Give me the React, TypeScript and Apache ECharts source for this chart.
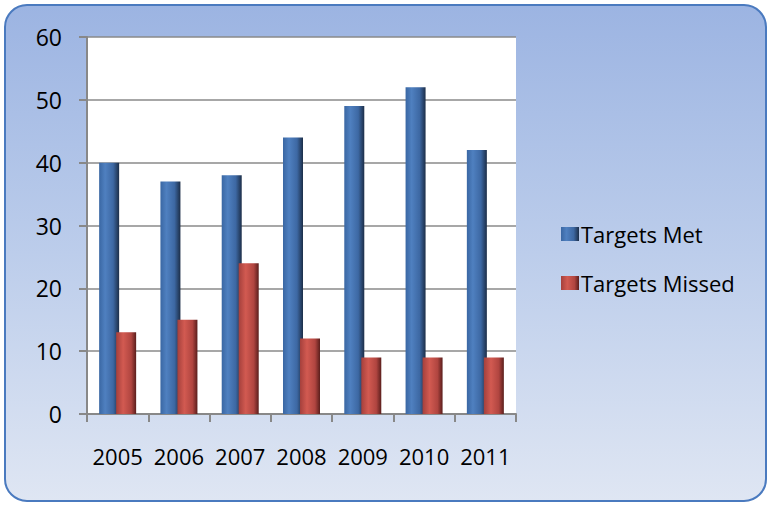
import React, { useEffect, useRef } from "react";
import * as echarts from "echarts";

const categories = ["2005", "2006", "2007", "2008", "2009", "2010", "2011"];
const targetsMet = [40, 37, 38, 44, 49, 52, 42];
const targetsMissed = [13, 15, 24, 12, 9, 9, 9];
const seriesNames = ["Targets Met", "Targets Missed"];
const yTicks = { min: 0, max: 60, interval: 10 };

const FONT = "'Open Sans', sans-serif";

export default function App() {
  const ref = useRef<HTMLDivElement>(null);
  useEffect(() => {
    if (!ref.current) return;
    const chart = echarts.init(ref.current, undefined, { renderer: "svg" });
    const blue = new echarts.graphic.LinearGradient(0, 0, 1, 0, [
      { offset: 0, color: "#3a67a3" },
      { offset: 0.3, color: "#4f80c0" },
      { offset: 0.7, color: "#3d68a3" },
      { offset: 1, color: "#1c2e48" },
    ]);
    const red = new echarts.graphic.LinearGradient(0, 0, 1, 0, [
      { offset: 0, color: "#a5403c" },
      { offset: 0.35, color: "#d25a51" },
      { offset: 0.75, color: "#b04540" },
      { offset: 1, color: "#5a1e1c" },
    ]);
    chart.setOption({
      animation: false,
      textStyle: { fontFamily: FONT },
      graphic: [
        {
          type: "rect",
          z: -10,
          silent: true,
          shape: { x: 5, y: 5, width: 761, height: 496, r: 22 },
          style: {
            fill: new echarts.graphic.LinearGradient(0, 0, 0, 1, [
              { offset: 0, color: "#9cb4e2" },
              { offset: 0.5, color: "#bccdeb" },
              { offset: 1, color: "#dfe6f3" },
            ]),
            stroke: "#4a7abf",
            lineWidth: 2,
          },
        },
      ],
      grid: {
        left: 87,
        right: 251,
        top: 37,
        bottom: 92,
        show: true,
        backgroundColor: "#ffffff",
        borderWidth: 0,
        containLabel: false,
      },
      legend: {
        orient: "vertical",
        left: 556,
        top: 217,
        itemWidth: 18,
        itemHeight: 14,
        itemGap: 25,
        icon: "rect",
        textStyle: { fontFamily: FONT, fontSize: 22, color: "#000", lineHeight: 24, padding: [0, 0, 0, -3] },
        data: seriesNames,
      },
      xAxis: {
        type: "category",
        data: categories,
        axisLine: { show: true, lineStyle: { color: "#888", width: 2 } },
        axisTick: { show: true, length: 8, lineStyle: { color: "#888", width: 2 } },
        axisLabel: { fontFamily: FONT, fontSize: 22, color: "#000", margin: 31, interval: 0 },
      },
      yAxis: {
        type: "value",
        min: yTicks.min,
        max: yTicks.max,
        interval: yTicks.interval,
        axisLine: { show: true, lineStyle: { color: "#888", width: 2 } },
        axisTick: { show: true, length: 8, lineStyle: { color: "#888", width: 2 } },
        splitLine: { show: true, lineStyle: { color: "#8a8a8a", width: 1.5 } },
        axisLabel: { fontFamily: FONT, fontSize: 23, color: "#000", margin: 25 },
      },
      series: [
        {
          name: seriesNames[0],
          type: "bar",
          data: targetsMet,
          barWidth: 20,
          barGap: "-15%",
          itemStyle: { color: blue },
        },
        {
          name: seriesNames[1],
          type: "bar",
          data: targetsMissed,
          barWidth: 20,
          itemStyle: { color: red },
        },
      ],
    });
    return () => chart.dispose();
  }, []);
  return (
    <div
      ref={ref}
      style={{ position: "absolute", left: 0, top: 0, width: 767, height: 506, background: "#fff" }}
    />
  );
}
